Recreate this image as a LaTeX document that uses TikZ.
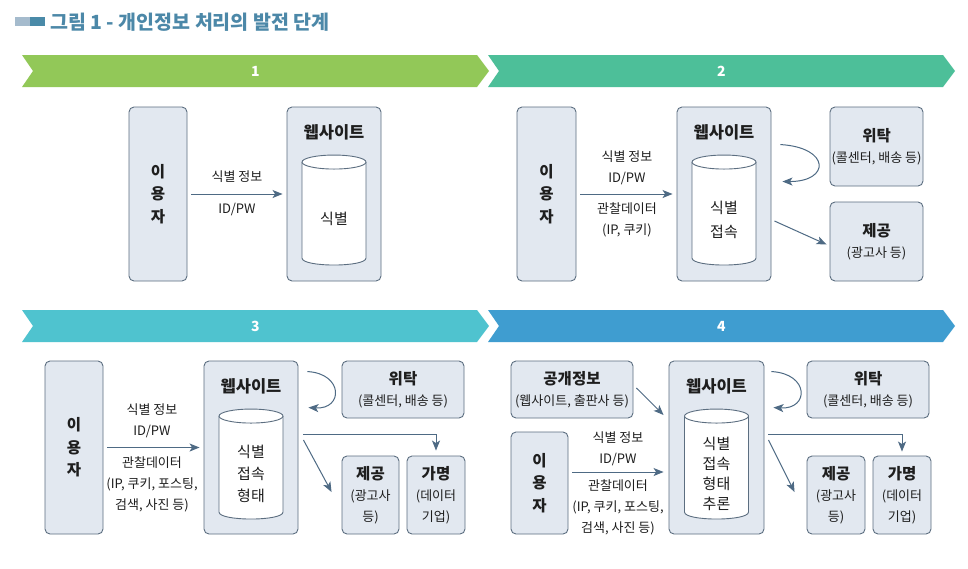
\documentclass[tikz,border=0pt]{standalone}
\usepackage{fontspec}
\setmainfont{Noto Sans CJK KR}
\usepackage{tikz}
\usetikzlibrary{arrows.meta, calc}

\definecolor{bandA}{RGB}{146,200,88}
\definecolor{bandB}{RGB}{77,191,153}
\definecolor{bandC}{RGB}{79,195,207}
\definecolor{bandD}{RGB}{63,157,208}
\definecolor{boxfill}{RGB}{226,232,240}
\definecolor{boxline}{RGB}{92,110,128}
\definecolor{arrowc}{RGB}{78,106,132}
\definecolor{textc}{RGB}{30,30,30}
\definecolor{titlec}{RGB}{76,136,168}
\definecolor{barlight}{RGB}{165,187,205}
\definecolor{bardark}{RGB}{74,138,168}

\newcommand{\bigbold}{\fontsize{15.5}{22.5}\selectfont\bfseries}
\newcommand{\hd}[1]{{\fontsize{15.5}{21}\selectfont\bfseries #1}}

\tikzset{
  panelbox/.style={rectangle, rounded corners=5pt, draw=boxline, fill=boxfill, line width=0.9pt, inner sep=0pt, align=center, text=textc, font=\fontsize{13}{21}\selectfont},
  dbline/.style={draw=boxline, fill=white, line width=0.9pt},
  heading/.style={font=\fontsize{16.5}{21}\selectfont\bfseries, text=textc, inner sep=0pt},
  dbtext/.style={font=\fontsize{15}{22}\selectfont, text=textc, align=center, inner sep=0pt},
  flowtext/.style={font=\fontsize{13}{21}\selectfont, text=textc, align=center, inner sep=0pt},
  arrow/.style={draw=arrowc, line width=1pt, -{Stealth[length=10pt,width=8pt,inset=2.5pt]}}
}

% database drum inside a website box (#1 = name of the box)
\newcommand{\dbcyl}[1]{
    \coordinate (#1top) at ($(#1.north)+(0,55.5)$);
    \coordinate (#1bot) at ($(#1top)+(0,96)$);
    \draw[dbline] ($(#1top)+(-32,0)$) -- ($(#1bot)+(-32,0)$)
        .. controls ($(#1bot)+(-32,9.3)$) and ($(#1bot)+(32,9.3)$) .. ($(#1bot)+(32,0)$)
        -- ($(#1top)+(32,0)$);
    \draw[dbline] (#1top) ellipse [x radius=32, y radius=7];
}

\begin{document}
\begin{tikzpicture}[x=1pt, y=-1pt]
    \useasboundingbox[fill=white] (0,0) rectangle (968,568);

    % Figure title
    \fill[barlight] (15,17) rectangle (30,26);
    \fill[bardark] (30,17) rectangle (45,26);
    \node[anchor=west, inner sep=0pt, text=titlec, font=\fontsize{19.5}{22}\selectfont\bfseries] (figtitle) at (50,22) {그림 1 - 개인정보 처리의 발전 단계};

    % Stage banners
    \foreach \x/\y/\col/\num in {22/55/bandA/1, 488/55/bandB/2, 22/310/bandC/3, 488/310/bandD/4} {
        \fill[\col] (\x,\y) -- ++(455,0) -- ++(12,16) -- ++(-12,16) -- ++(-455,0) -- ++(11,-16) -- cycle;
        \node[font=\fontsize{14}{16}\selectfont\bfseries, text=white] (band\num) at (\x+233.5,\y+16) {\num};
    }

    % ===== Stage 1 =====
    \node[panelbox, font=\bigbold, minimum width=58pt, minimum height=174pt] (user1) at (158,194) {이\\용\\자};
    \node[panelbox, minimum width=94pt, minimum height=174pt] (web1) at (334,194) {};
    \node[heading] (webtitle1) at ($(web1.north)+(0,26)$) {웹사이트};
    \dbcyl{web1}
    \node[dbtext] (dbtext1) at ($(web1)+(0,24.5)$) {식별};

    \draw[arrow, shorten <=4pt, shorten >=4pt] (user1) -- (web1);
    \node[flowtext] (info1a) at (237,177) {식별 정보};
    \node[flowtext] (info1b) at (237,209) {ID/PW};

    % ===== Stage 2 =====
    \node[panelbox, font=\bigbold, minimum width=59pt, minimum height=174pt] (user2) at (546.5,194) {이\\용\\자};
    \node[panelbox, minimum width=94pt, minimum height=174pt] (web2) at (724,194) {};
    \node[heading] (webtitle2) at ($(web2.north)+(0,26)$) {웹사이트};
    \dbcyl{web2}
    \node[dbtext] (dbtext2) at ($(web2)+(0,26)$) {식별\\[2pt]접속};
    \node[panelbox, minimum width=93pt, minimum height=79pt] (trust2) at (876.5,146.5) {\hd{위탁}\\(콜센터, 배송 등)};
    \node[panelbox, minimum width=93pt, minimum height=79pt] (give2) at (876.5,241.5) {\hd{제공}\\(광고사 등)};

    \draw[arrow, shorten <=4pt, shorten >=4pt] (user2) -- (web2);
    \node[flowtext] (info2a) at (627,167.5) {식별 정보\\ID/PW};
    \node[flowtext] (info2b) at (627,219.5) {관찰데이터\\(IP, 쿠키)};

    % entrust loop and handover
    \draw[arrow] ($(web2.north east)+(9,38)$) .. controls ($(web2.north east)+(59,41)$) and ($(web2.north east)+(59,75)$) .. ($(web2.north east)+(11,75)$);
    \draw[arrow] ($(web2.east)+(3,27)$) -- ($(give2.west)+(-3,3)$);

    % ===== Stage 3 =====
    \node[panelbox, font=\bigbold, minimum width=58pt, minimum height=173pt] (user3) at (74,447.5) {이\\용\\자};
    \node[panelbox, minimum width=94pt, minimum height=173pt] (web3) at (251,447.5) {};
    \node[heading] (webtitle3) at ($(web3.north)+(0,26)$) {웹사이트};
    \dbcyl{web3}
    \node[dbtext] (dbtext3) at ($(web3)+(0,26)$) {식별\\접속\\형태};
    \node[panelbox, minimum width=122pt, minimum height=57pt] (trust3) at (403,389.5) {\hd{위탁}\\(콜센터, 배송 등)};
    \node[panelbox, minimum width=57pt, minimum height=78pt] (give3) at (370.5,495) {\hd{제공}\\(광고사\\등)};
    \node[panelbox, minimum width=58pt, minimum height=78pt] (alias3) at (436,495) {\hd{가명}\\(데이터\\기업)};

    \draw[arrow, shorten <=4pt, shorten >=4pt] (user3) -- (web3);
    \node[flowtext] (info3a) at (152,420.5) {식별 정보\\ID/PW};
    \node[flowtext] (info3b) at (152,484.5) {관찰데이터\\(IP, 쿠키, 포스팅,\\검색, 사진 등)};

    \draw[arrow] ($(web3.north east)+(9,11)$) .. controls ($(web3.north east)+(45,13)$) and ($(web3.north east)+(45,49)$) .. ($(web3.north east)+(10,47)$);
    \draw[arrow] ($(web3.east)+(5,-7.5)$) -- ($(give3.west)+(-10,-3)$);
    \draw[arrow] ($(web3.east)+(5,-13.5)$) -| ([yshift=5pt]alias3.north);

    % ===== Stage 4 =====
    \node[panelbox, minimum width=122pt, minimum height=57pt] (pub4) at (572,389.5) {\hd{공개정보}\\(웹사이트, 출판사 등)};
    \node[panelbox, font=\bigbold, minimum width=57pt, minimum height=102pt] (user4) at (539.5,483) {이\\용\\자};
    \node[panelbox, minimum width=95pt, minimum height=173pt] (web4) at (716.5,447.5) {};
    \node[heading] (webtitle4) at ($(web4.north)+(0,26)$) {웹사이트};
    \dbcyl{web4}
    \node[dbtext, font=\fontsize{15}{20}\selectfont] (dbtext4) at ($(web4)+(0,26.5)$) {식별\\접속\\형태\\추론};
    \node[panelbox, minimum width=122pt, minimum height=57pt] (trust4) at (868,389.5) {\hd{위탁}\\(콜센터, 배송 등)};
    \node[panelbox, minimum width=58pt, minimum height=78pt] (give4) at (836,495) {\hd{제공}\\(광고사\\등)};
    \node[panelbox, minimum width=58pt, minimum height=78pt] (alias4) at (902,495) {\hd{가명}\\(데이터\\기업)};

    \coordinate (from4) at ([yshift=11pt]user4.east);
    \draw[arrow, shorten <=4pt, shorten >=5pt] (from4) -- (from4 -| web4.west);
    \node[flowtext] (info4a) at (618,449) {식별 정보\\ID/PW};
    \node[flowtext] (info4b) at (618,507.5) {관찰데이터\\(IP, 쿠키, 포스팅,\\검색, 사진 등)};

    \draw[arrow] ($(pub4.east)+(3,-1.5)$) -- ($(web4.west)+(-5,-32.5)$);
    \draw[arrow] ($(web4.north east)+(7,11)$) .. controls ($(web4.north east)+(45,13)$) and ($(web4.north east)+(45,49)$) .. ($(web4.north east)+(9,47)$);
    \draw[arrow] ($(web4.east)+(4,-7.5)$) -- ($(give4.west)+(-12,-3)$);
    \draw[arrow] ($(web4.east)+(4,-13.5)$) -| ([yshift=4pt]alias4.north);

\end{tikzpicture}
\end{document}
